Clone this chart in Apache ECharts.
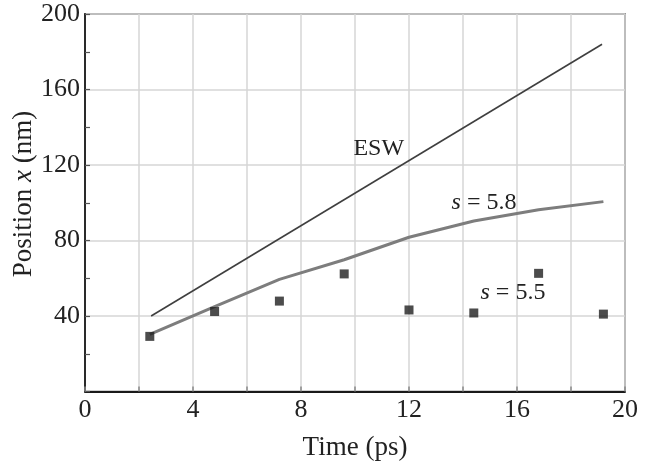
<!DOCTYPE html>
<html>
<head>
<meta charset="utf-8">
<script src="https://cdn.jsdelivr.net/npm/echarts@6/dist/echarts.min.js"></script>
<style>
html,body{margin:0;padding:0;background:#fff;}
#chart{width:654px;height:463px;}
</style>
</head>
<body>
<div id="chart"></div>
<script>
// ---- data ----
const eswTimes = [2.45, 19.15];
const eswPos = [40, 184];
const s58Times = [2.4, 4.8, 7.2, 9.6, 12.0, 14.4, 16.8, 19.2];
const s58Pos = [30.2, 45, 59.4, 69.8, 81.7, 90.3, 96.3, 100.6];
const s55Times = [2.4, 4.8, 7.2, 9.6, 12.0, 14.4, 16.8, 19.2];
const s55Pos = [29.2, 42.4, 47.9, 62.3, 43.2, 41.6, 62.6, 41.0];
const xTickLabels = [0, 4, 8, 12, 16, 20];
const yTickLabels = [40, 80, 120, 160, 200];
const xTitle = 'Time (ps)';
const yTitle = 'Position {i|x} (nm)';
const annotations = [
  {text: 'ESW', x: 10.88, y: 128.5},
  {text: '{i|s} = 5.8', x: 14.78, y: 100.2},
  {text: '{i|s} = 5.5', x: 15.85, y: 52.6}
];

const FONT = '"Liberation Serif", "DejaVu Serif", serif';
const TXT = '#222';
const zip = (a, b) => a.map((v, i) => [v, b[i]]);

const chart = echarts.init(document.getElementById('chart'), null, {renderer: 'canvas'});
const option = {
  animation: false,
  backgroundColor: '#fff',
  grid: {left: 85, right: 29, top: 14, bottom: 71.5, containLabel: false, outerBoundsMode: 'none',
    show: true, borderColor: '#4a4a4a', borderWidth: 1.5, backgroundColor: 'transparent'},
  xAxis: {
    type: 'value', min: 0, max: 20, interval: 2,
    name: xTitle, nameLocation: 'middle', nameGap: 43,
    nameTextStyle: {fontFamily: FONT, fontSize: 27, color: TXT},
    axisLine: {show: true, lineStyle: {color: '#1a1a1a', width: 1.8}},
    axisTick: {show: true, inside: true, length: 5, lineStyle: {color: '#888', width: 1.5}},
    axisLabel: {
      fontFamily: FONT, fontSize: 26, color: TXT, margin: 6,
      formatter: v => (xTickLabels.indexOf(v) >= 0 ? String(v) : '')
    },
    splitLine: {show: true, lineStyle: {color: '#d6d6d6', width: 1.5}}
  },
  yAxis: {
    type: 'value', min: 0, max: 200, interval: 40,
    axisLine: {show: true, lineStyle: {color: '#1a1a1a', width: 1.8}},
    axisTick: {show: true, inside: true, length: 5, lineStyle: {color: '#555', width: 1.2}},
    minorTick: {show: true, splitNumber: 2, length: 5, lineStyle: {color: '#555', width: 1.2}},
    axisLabel: {
      fontFamily: FONT, fontSize: 26, color: TXT, margin: 5,
      formatter: v => (yTickLabels.indexOf(v) >= 0 ? String(v) : '')
    },
    splitLine: {show: true, lineStyle: {color: '#d6d6d6', width: 1.5}}
  },
  series: [
    {type: 'line', name: 'ESW', data: zip(eswTimes, eswPos), symbol: 'none',
     lineStyle: {color: '#3f3f3f', width: 1.6}, z: 3},
    {type: 'line', name: 's58', data: zip(s58Times, s58Pos), symbol: 'none',
     lineStyle: {color: '#7d7d7d', width: 3}, z: 4},
    {type: 'scatter', name: 's55', data: zip(s55Times, s55Pos), symbol: 'rect', symbolSize: 9,
     itemStyle: {color: '#1f1f1f'}, z: 5}
  ]
};
chart.setOption(option);

const graphics = annotations.map(a => {
  const p = chart.convertToPixel({gridIndex: 0}, [a.x, a.y]);
  return {
    type: 'text', x: p[0], y: p[1], z: 10,
    style: {
      text: a.text, fontFamily: FONT, fontSize: 24, fill: TXT,
      align: 'center', verticalAlign: 'middle',
      rich: {i: {fontFamily: FONT, fontSize: 24, fontStyle: 'italic', fill: TXT}}
    }
  };
});
graphics.push({
  type: 'text', x: 24, y: 194, rotation: Math.PI / 2, z: 10,
  style: {
    text: yTitle, fontFamily: FONT, fontSize: 27, fill: TXT,
    align: 'center', verticalAlign: 'middle',
    rich: {i: {fontFamily: FONT, fontSize: 27, fontStyle: 'italic', fill: TXT}}
  }
});
chart.setOption({graphic: graphics});
</script>
</body>
</html>
